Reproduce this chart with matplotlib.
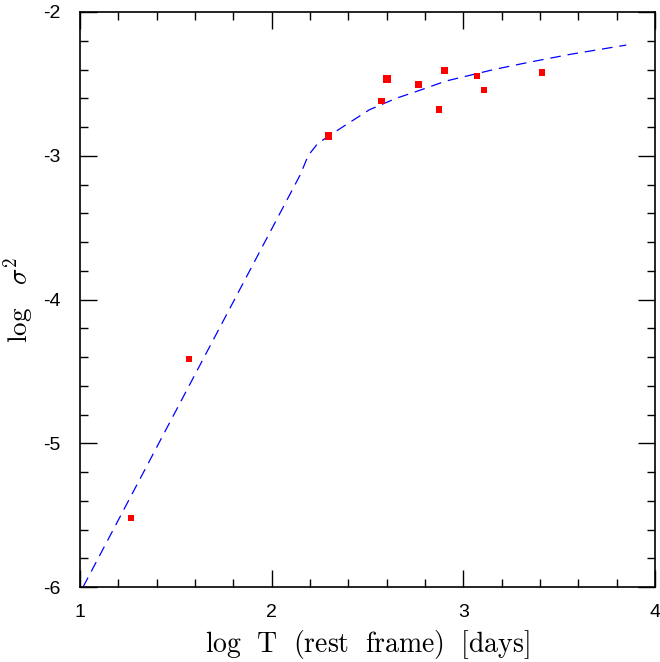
import matplotlib
matplotlib.use("Agg")
import matplotlib.pyplot as plt
from matplotlib.ticker import MultipleLocator

plt.rcParams['mathtext.fontset'] = 'cm'

# data points
obs_x = [1.266, 1.569, 2.297, 2.572, 2.601, 2.768, 2.873, 2.904, 3.071, 3.108, 3.410]
obs_y = [-5.52, -4.414, -2.864, -2.620, -2.466, -2.502, -2.677, -2.408, -2.446, -2.542, -2.420]
obs_size = [22, 22, 30, 22, 30, 26, 22, 26, 22, 22, 22]

# model curve
model_x = [1.016, 2.15, 2.19, 2.24, 2.29, 2.37, 2.51, 2.65, 2.74, 2.91, 3.02, 3.16, 3.33, 3.45, 3.56, 3.85]
model_y = [-6.0, -3.13, -3.0, -2.915, -2.87, -2.80, -2.68, -2.60, -2.56, -2.48, -2.445, -2.40, -2.353, -2.322, -2.294, -2.23]

xticks = [1, 2, 3, 4]
xtick_labels = ['1', '2', '3', '4']
yticks = [-6, -5, -4, -3, -2]
ytick_labels = ['-6', '-5', '-4', '-3', '-2']

fig = plt.figure(figsize=(6.6, 6.62), dpi=100)
ax = fig.add_axes([80/660, 1-587/662, 575/660, 575/662])

ax.plot(model_x, model_y, color='blue', lw=0.9, dashes=(8.5, 5.5))
ax.scatter(obs_x, obs_y, s=obs_size, marker='s', color='red', linewidths=0, zorder=3)

ax.set_xlim(1, 4)
ax.set_ylim(-6, -2)
ax.set_xticks(xticks, labels=xtick_labels, fontfamily='Liberation Sans')
ax.set_yticks(yticks, labels=ytick_labels, fontfamily='Liberation Sans')
ax.xaxis.set_minor_locator(MultipleLocator(0.2))
ax.yaxis.set_minor_locator(MultipleLocator(0.2))
ax.tick_params(which='both', direction='in', top=True, right=True, width=1)
ax.tick_params(which='major', length=12, labelsize=14)
ax.tick_params(axis='x', which='major', pad=12)
ax.tick_params(axis='y', which='major', pad=14)
ax.tick_params(which='minor', length=6)
for s in ax.spines.values():
    s.set_linewidth(1.2)

ax.set_xlabel(r'$\mathrm{log\ \ T\ \ (rest\ \ frame)\ \ [days]}$', fontsize=20, labelpad=5)
ax.set_ylabel(r'$\mathrm{log}\ \ \ \sigma^2$', fontsize=19.5, labelpad=5)

fig.savefig('out.png', dpi=100)
